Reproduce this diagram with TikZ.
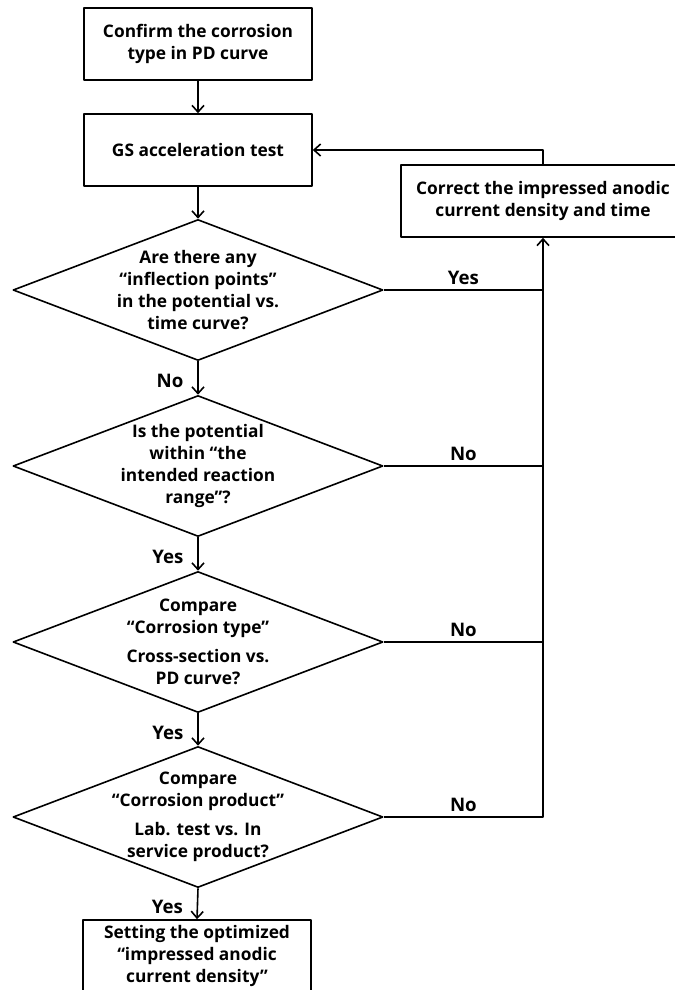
\documentclass[tikz,border=0pt]{standalone}
\usepackage{fontspec}
\setmainfont{Open Sans}
\usetikzlibrary{shapes.geometric, arrows.meta, positioning}

\tikzset{
  procbox/.style={draw, line width=1.2pt, minimum width=171pt, minimum height=54pt,
    inner sep=2pt, align=center, font=\bfseries\fontsize{13}{16.5}\selectfont},
  decision/.style={draw, diamond, line width=1.2pt, minimum width=277.5pt,
    minimum height=105.75pt, inner sep=0pt},
  dtext/.style={align=center, font=\bfseries\fontsize{13}{16.5}\selectfont},
  answer/.style={font=\bfseries\fontsize{14}{16}\selectfont},
  line/.style={line width=1.2pt},
  flow/.style={line width=1.2pt, -{Straight Barb[length=5pt,width=9pt]}}
}

\begin{document}
\begin{tikzpicture}[x=0.75pt,y=-0.75pt,line join=round]
  \useasboundingbox (0,0) rectangle (675,990);

  % main column
  \node[procbox] (confirm) at (198,44) {Confirm the corrosion\\type in PD curve};
  \node[procbox] (gs) at (198,150) {GS acceleration test};
  \node[procbox, minimum width=213pt] (correct) at (543,201)
    {Correct the impressed anodic\\current density and time};

  \node[decision] (d1) at (198,290) {};
  \node[dtext] (q1) at (d1) {Are there any\\“inflection points”\\in the potential vs.\\time curve?};
  \node[decision] (d2) at (198,466) {};
  \node[dtext] (q2) at (d2) {Is the potential\\within “the\\intended reaction\\range”?};
  \node[decision] (d3) at (198,642) {};
  \node[dtext] (q3) at (d3) {Compare\\“Corrosion type”\\[5pt]Cross-section vs.\\PD curve?};
  \node[decision] (d4) at (198,817) {};
  \node[dtext] (q4) at (d4) {Compare\\“Corrosion product”\\[5pt]Lab. test vs. In\\service product?};

  \node[procbox] (final) at (197,956)
    {Setting the optimized\\“impressed anodic\\current density”};

  % downward arrows
  \draw[flow] (confirm) -- (gs);
  \draw[flow] (gs) -- (d1);
  \draw[flow] (d1.south) -- node[left=7pt, answer, pos=0.6] {No} (d2.north);
  \draw[flow] (d2.south) -- node[left=7pt, answer, pos=0.6] {Yes} (d3.north);
  \draw[flow] (d3.south) -- node[left=7pt, answer, pos=0.6] {Yes} (d4.north);
  \draw[flow] (d4.south) -- node[left=7pt, answer, pos=0.6] {Yes} (final.north);

  % feedback loop on the right
  \coordinate (bus) at (d4.east -| correct.south);
  \draw[line] (d1.east) -- node[above, answer] {Yes} (d1.east -| bus);
  \draw[line] (d2.east) -- node[above, answer] {No} (d2.east -| bus);
  \draw[line] (d3.east) -- node[above, answer] {No} (d3.east -| bus);
  \draw[flow] (d4.east) -- node[above, answer] {No} (bus) -- (correct.south);
  \draw[flow] (correct.north) |- (gs.east);
\end{tikzpicture}
\end{document}
